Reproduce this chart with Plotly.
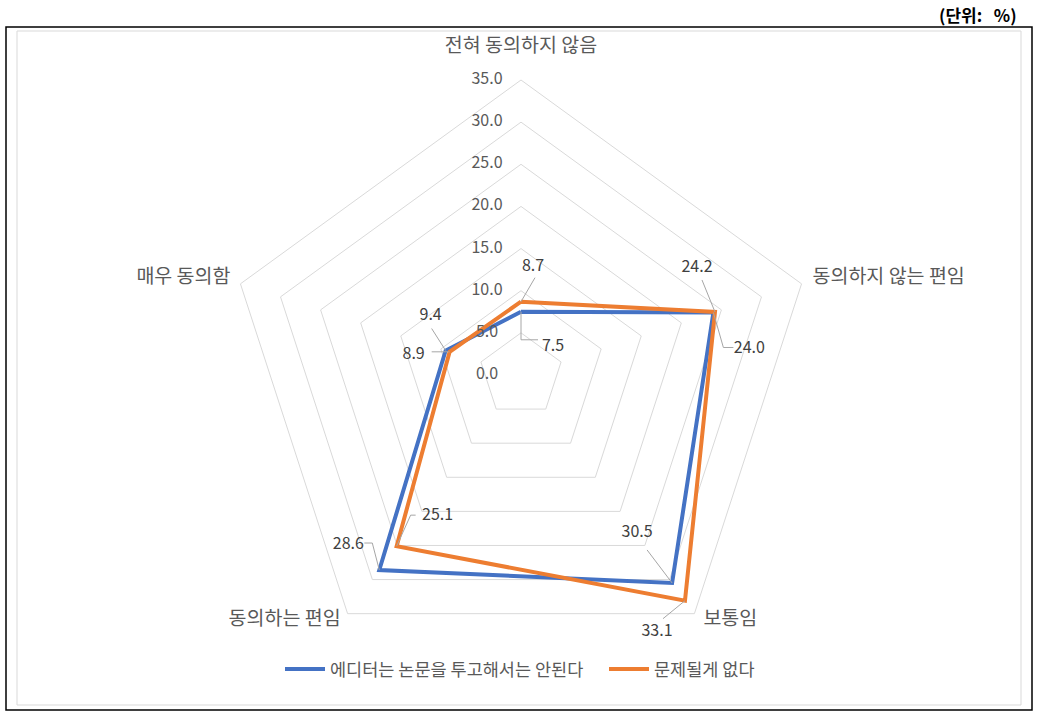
import math
import plotly.graph_objects as go

categories = ["전혀 동의하지 않음", "동의하지 않는 편임", "보통임", "동의하는 편임", "매우 동의함"]
series_names = ["에디터는 논문을 투고해서는 안된다", "문제될게 없다"]
blue_values = [7.5, 24.0, 30.5, 28.6, 9.4]
orange_values = [8.7, 24.2, 33.1, 25.1, 8.9]
radial_ticks = [0, 5, 10, 15, 20, 25, 30, 35]

BLUE = "#4472C4"
ORANGE = "#ED7D31"
FONT = "Noto Sans CJK KR"
W, H = 1044, 722
CX, CY, RPX = 521, 375, 295          # polar centre and outer radius in px
RMAX = 35
K = RPX / RMAX                        # px per data unit
DOM_X = [(CX - RPX) / W, (CX + RPX) / W]
DOM_Y = [1 - (CY + RPX) / H, 1 - (CY - RPX) / H]
# overlay polar used for labels: bigger so labels outside the outer ring are not clipped
RPX2 = 345
RMAX2 = RPX2 / K
DOM2_X = [(CX - RPX2) / W, (CX + RPX2) / W]
DOM2_Y = [1 - (CY + RPX2) / H, 1 - (CY - RPX2) / H]

# label styling offsets (screen px, y down): text offset and leader-line polyline
blue_label_style = [
    ((32, 35), [(0, 0), (0, 28), (17, 28)]),
    ((36, 37), [(0, 0), (10, 35), (20, 35)]),
    ((-35, -50), [(0, 0), (-25, -33)]),
    ((-31, -25), [(0, 0), (-7, -27), (-15, -27)]),
    ((-15, -35), [(0, 0), (-14, -22)]),
]
orange_label_style = [
    ((12, -35), [(0, 0), (14, -24)]),
    ((-18, -44), [(0, 0), (-13, -32)]),
    ((-28, 31), [(0, 0), (-22, 18)]),
    ((41, -30), [(0, 0), (14, -31), (19, -31)]),
    ((-36, 3), [(0, 0), (-18, 0)]),
]
# category label anchor offsets from outer vertex, and text anchoring
category_label_style = [
    ((0, -33), "middle center"),
    ((11, -6), "middle right"),
    ((9, 6), "middle right"),
    ((-7, 6), "middle left"),
    ((-10, -6), "middle left"),
]


def offset_polar(r, idx, dx, dy, step=72):
    a = math.radians(90 - step * idx)
    x = r * K * math.cos(a) + dx
    y = r * K * math.sin(a) - dy
    return math.hypot(x, y) / K, math.degrees(math.atan2(y, x))


fig = go.Figure()

for name, vals, col, lg in [(series_names[0], blue_values, BLUE, "legend"),
                            (series_names[1], orange_values, ORANGE, "legend2")]:
    fig.add_trace(go.Scatterpolar(
        r=vals + vals[:1], theta=categories + categories[:1], mode="lines",
        line=dict(color=col, width=4), name=name, subplot="polar", legend=lg,
    ))

for vals, style in [(blue_values, blue_label_style), (orange_values, orange_label_style)]:
    for i, (v, ((tx, ty), leader)) in enumerate(zip(vals, style)):
        lr, lt = [], []
        for (dx, dy) in leader:
            rr, tt = offset_polar(v, i, dx, dy)
            lr.append(rr)
            lt.append(tt)
        fig.add_trace(go.Scatterpolar(
            r=lr, theta=lt, mode="lines", line=dict(color="#a6a6a6", width=1),
            showlegend=False, hoverinfo="skip", subplot="polar2",
        ))
        rr, tt = offset_polar(v, i, tx, ty)
        fig.add_trace(go.Scatterpolar(
            r=[rr], theta=[tt], mode="text", text=[f"{v:.1f}"],
            textposition="middle center",
            textfont=dict(family=FONT, size=16, color="#404040"),
            showlegend=False, hoverinfo="skip", subplot="polar2",
        ))

# radial tick labels (left of the vertical axis)
tr, tt_ = [], []
for t in radial_ticks:
    rr, th = offset_polar(t, 0, -34, 0)
    tr.append(rr)
    tt_.append(th)
fig.add_trace(go.Scatterpolar(
    r=tr, theta=tt_, mode="text", text=[f"{t:.1f}" for t in radial_ticks],
    textposition="middle center",
    textfont=dict(family=FONT, size=16, color="#595959"),
    showlegend=False, hoverinfo="skip", subplot="polar2",
))

# category labels
for i, (cat, ((dx, dy), pos)) in enumerate(zip(categories, category_label_style)):
    rr, th = offset_polar(RMAX, i, dx, dy)
    fig.add_trace(go.Scatterpolar(
        r=[rr], theta=[th], mode="text", text=[cat], textposition=pos,
        textfont=dict(family=FONT, size=19.5, color="#595959"),
        showlegend=False, hoverinfo="skip", subplot="polar2",
    ))

legend_common = dict(
    orientation="h", y=1 - 669 / H, yanchor="middle", xanchor="left",
    font=dict(family=FONT, size=17.5, color="#595959"), itemwidth=40,
    bgcolor="rgba(0,0,0,0)",
)

fig.update_layout(
    width=W, height=H,
    margin=dict(l=0, r=0, t=0, b=0, autoexpand=False),
    paper_bgcolor="white",
    font=dict(family=FONT, color="#595959"),
    polar=dict(
        domain=dict(x=DOM_X, y=DOM_Y),
        gridshape="linear",
        bgcolor="rgba(0,0,0,0)",
        radialaxis=dict(
            range=[0, RMAX], tickvals=radial_ticks, angle=90,
            showline=False, gridcolor="#d9d9d9", gridwidth=1,
            ticks="", showticklabels=False,
        ),
        angularaxis=dict(
            rotation=90, direction="clockwise", showgrid=False, showline=True,
            linecolor="#d9d9d9", linewidth=1, ticks="", showticklabels=False,
        ),
    ),
    polar2=dict(
        domain=dict(x=DOM2_X, y=DOM2_Y),
        bgcolor="rgba(0,0,0,0)",
        radialaxis=dict(range=[0, RMAX2], visible=False),
        angularaxis=dict(rotation=0, direction="counterclockwise", visible=False),
    ),
    legend=dict(x=280 / W, **legend_common),
    legend2=dict(x=604 / W, **legend_common),
    shapes=[
        dict(type="rect", xref="paper", yref="paper", x0=6 / W, x1=1032 / W,
             y0=1 - 710 / H, y1=1 - 27 / H, line=dict(color="black", width=1.5)),
        dict(type="rect", xref="paper", yref="paper", x0=17 / W, x1=1021 / W,
             y0=1 - 705 / H, y1=1 - 31 / H, line=dict(color="#d9d9d9", width=1)),
    ],
    annotations=[
        dict(text="<b>(단위:&nbsp;&nbsp; %)</b>", xref="paper", yref="paper",
             x=1019 / W, y=1 - 14 / H, xanchor="right", yanchor="middle",
             showarrow=False, font=dict(family=FONT, size=17, color="black")),
    ],
)

fig.write_html("out.html")
